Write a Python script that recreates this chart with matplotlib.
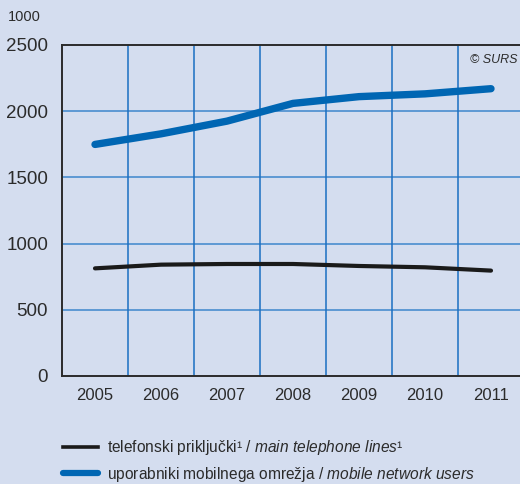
import matplotlib
matplotlib.use("Agg")
import matplotlib.pyplot as plt
from matplotlib.lines import Line2D

years = ["2005", "2006", "2007", "2008", "2009", "2010", "2011"]
main_lines = [813, 841, 846, 846, 831, 821, 796]
mobile_users = [1749, 1829, 1925, 2059, 2110, 2131, 2170]
y_ticks = [0, 500, 1000, 1500, 2000, 2500]

label_main = "telefonski priključki¹ / $\\it{main\\ telephone\\ lines}$¹"
label_mobile = "uporabniki mobilnega omrežja / $\\it{mobile\\ network\\ users}$"

FONT = ["Liberation Sans", "DejaVu Sans"]
plt.rcParams["font.family"] = FONT
plt.rcParams["mathtext.fontset"] = "custom"
plt.rcParams["mathtext.it"] = "Liberation Sans:italic"
plt.rcParams["mathtext.rm"] = "Liberation Sans"

BG = "#d4ddef"
GRID = "#1a6fc2"
DARK = "#2b2b2b"
BLUE = "#0066b3"

fig = plt.figure(figsize=(5.2, 4.84), dpi=100, facecolor=BG)
ax = fig.add_axes([62 / 520, (484 - 376) / 484, 462 / 520, 331 / 484])
ax.set_facecolor(BG)

x = list(range(len(years)))
ax.plot(x, main_lines, color="#1a1a1a", lw=3.0, solid_capstyle="round", zorder=3)
ax.plot(x, mobile_users, color=BLUE, lw=5.3, solid_capstyle="round", zorder=3)

ax.set_xlim(-0.5, len(years) - 0.5)
ax.set_ylim(0, 2500)
ax.set_yticks(y_ticks)
ax.set_yticklabels([str(v) for v in y_ticks], fontsize=13.5, color=DARK)
ax.set_xticks(x)
ax.set_xticklabels(years, fontsize=12, color=DARK)
ax.tick_params(axis="both", length=0)
ax.tick_params(axis="y", pad=10)
ax.tick_params(axis="x", pad=9)

for v in y_ticks[1:-1]:
    ax.axhline(v, color="#3d86cc", lw=1.1, zorder=1)
for i in range(len(years) - 1):
    ax.axvline(i + 0.5, color=GRID, lw=1.1, zorder=1)

for s in ["left", "bottom", "top"]:
    ax.spines[s].set_color(DARK)
    ax.spines[s].set_linewidth(1.4)
ax.spines["right"].set_visible(False)

fig.text(8 / 520, 1 - 17 / 484, "1000", fontsize=10.5, color=DARK, va="center", ha="left")
fig.text(517 / 520, 1 - 60 / 484, "© SURS", fontsize=9, color=DARK, va="center", ha="right", style="italic")

handles = [Line2D([], [], color="#1a1a1a", lw=2.6), Line2D([], [], color=BLUE, lw=4.5, solid_capstyle="round")]
fig.legend(handles, [label_main, label_mobile], loc="center left",
           bbox_to_anchor=(63 / 520, 1 - 461 / 484), frameon=False, fontsize=11.2,
           borderpad=0, borderaxespad=0,
           handlelength=2.25, handletextpad=0.55, labelspacing=0.5, labelcolor=DARK)

fig.savefig("out.png", dpi=100, facecolor=BG)
